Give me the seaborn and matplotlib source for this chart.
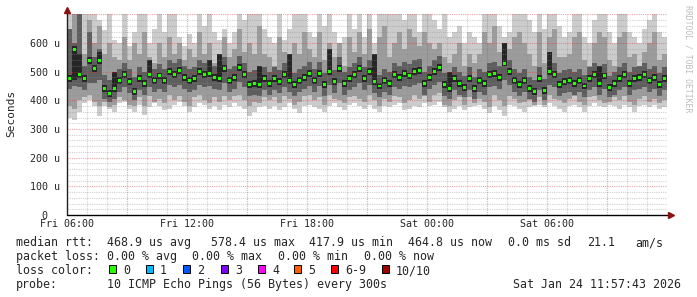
import numpy as np
import pandas as pd
import matplotlib
matplotlib.use("Agg")
import matplotlib.pyplot as plt
from matplotlib.patches import Rectangle
import seaborn as sns

# ---------------- data (values in microseconds, one column per 15 minutes) -------------
median_rtt = [
    475, 578, 490, 475, 540, 510, 540, 440, 425, 440,
    470, 490, 465, 430, 475, 460, 490, 470, 485, 470,
    500, 490, 505, 480, 470, 475, 500, 490, 495, 480,
    475, 510, 470, 480, 515, 490, 455, 460, 455, 475,
    460, 475, 465, 490, 470, 455, 470, 480, 495, 470,
    495, 455, 500, 465, 510, 460, 475, 490, 510, 475,
    500, 465, 450, 470, 460, 490, 480, 495, 485, 500,
    505, 460, 480, 500, 515, 455, 440, 475, 460, 445,
    475, 440, 470, 460, 490, 495, 480, 530, 500, 470,
    455, 470, 440, 430, 475, 435, 500, 490, 455, 465,
    470, 460, 470, 450, 475, 490, 460, 485, 445, 460,
    475, 490, 460, 475, 480, 490, 470, 480, 455, 475,
]
ping_max = [
    720, 720, 720, 720, 720, 720, 680, 645, 720, 610,
    600, 720, 590, 640, 720, 720, 600, 650, 720, 640,
    720, 700, 620, 590, 630, 600, 720, 660, 720, 640,
    610, 650, 600, 640, 720, 680, 720, 720, 720, 650,
    620, 600, 720, 610, 650, 720, 700, 720, 640, 620,
    720, 660, 700, 640, 600, 620, 720, 650, 700, 620,
    720, 600, 720, 720, 700, 720, 720, 680, 720, 720,
    640, 720, 720, 680, 650, 700, 620, 640, 660, 600,
    640, 620, 600, 720, 720, 720, 660, 620, 640, 720,
    720, 720, 680, 640, 720, 650, 720, 720, 660, 620,
    640, 720, 720, 620, 600, 680, 720, 720, 640, 600,
    720, 720, 640, 620, 600, 650, 680, 720, 640, 620,
]
ping_min = [
    340, 330, 360, 390, 400, 380, 345, 380, 370, 360,
    390, 395, 370, 360, 385, 350, 375, 390, 380, 365,
    370, 385, 395, 380, 360, 375, 390, 385, 370, 380,
    365, 385, 375, 390, 380, 370, 345, 360, 375, 380,
    370, 380, 365, 375, 390, 370, 355, 380, 385, 375,
    370, 360, 380, 390, 375, 365, 385, 390, 380, 370,
    385, 370, 360, 380, 375, 385, 390, 365, 370, 380,
    375, 390, 380, 385, 395, 375, 360, 370, 380, 365,
    375, 380, 385, 370, 355, 380, 365, 345, 385, 380,
    370, 360, 375, 380, 385, 375, 390, 380, 370, 360,
    380, 385, 375, 360, 380, 390, 380, 375, 385, 380,
    370, 385, 375, 360, 380, 385, 375, 385, 370, 375,
]
mid_hi = [
    640, 700, 650, 560, 680, 600, 660, 560, 600, 550,
    540, 620, 540, 600, 560, 640, 550, 530, 600, 550,
    620, 560, 600, 540, 580, 550, 640, 560, 600, 530,
    560, 620, 550, 580, 650, 570, 600, 560, 660, 560,
    550, 520, 620, 570, 550, 600, 560, 640, 580, 550,
    640, 540, 600, 550, 600, 520, 620, 570, 640, 560,
    650, 550, 620, 660, 550, 600, 640, 580, 650, 620,
    590, 640, 600, 580, 600, 550, 530, 560, 600, 520,
    560, 530, 560, 640, 600, 660, 570, 600, 580, 620,
    640, 600, 560, 520, 640, 530, 620, 650, 550, 550,
    560, 620, 640, 540, 520, 600, 640, 620, 540, 520,
    620, 640, 550, 560, 520, 570, 600, 640, 540, 560,
]
mid_lo = [
    380, 370, 400, 410, 420, 395, 380, 395, 375, 385,
    410, 400, 385, 380, 410, 380, 415, 395, 405, 390,
    420, 400, 415, 395, 380, 410, 420, 400, 390, 410,
    395, 415, 400, 415, 420, 400, 380, 395, 390, 410,
    400, 410, 390, 415, 405, 385, 395, 415, 420, 400,
    410, 385, 420, 405, 400, 390, 410, 415, 405, 395,
    420, 400, 380, 405, 395, 415, 410, 390, 400, 420,
    405, 415, 395, 420, 425, 385, 380, 400, 410, 385,
    410, 390, 405, 395, 375, 420, 400, 380, 415, 405,
    390, 395, 400, 385, 410, 385, 420, 405, 400, 390,
    405, 415, 395, 385, 410, 415, 400, 390, 395, 410,
    400, 415, 395, 385, 405, 415, 395, 405, 390, 400,
]
dark_hi = [
    650, 600, 700, 520, 640, 550, 580, 490, 470, 490,
    510, 530, 510, 480, 515, 500, 530, 510, 525, 510,
    540, 530, 545, 520, 510, 515, 540, 530, 535, 520,
    515, 550, 510, 520, 555, 530, 500, 505, 500, 515,
    500, 515, 505, 530, 510, 495, 510, 520, 535, 510,
    535, 495, 540, 505, 550, 500, 515, 530, 550, 515,
    540, 505, 490, 510, 500, 530, 520, 535, 525, 540,
    545, 500, 520, 540, 555, 495, 480, 515, 500, 485,
    515, 480, 510, 500, 530, 535, 520, 570, 540, 510,
    495, 510, 480, 470, 515, 475, 540, 530, 495, 505,
    510, 500, 510, 490, 515, 530, 500, 525, 485, 500,
    515, 530, 500, 515, 520, 530, 510, 520, 495, 515,
]
dark_lo = [
    440, 450, 445, 435, 460, 460, 470, 405, 395, 405,
    430, 445, 425, 400, 435, 420, 445, 430, 440, 430,
    455, 445, 455, 440, 430, 435, 455, 445, 450, 440,
    435, 460, 430, 440, 465, 445, 415, 420, 415, 435,
    420, 435, 425, 445, 430, 415, 430, 440, 450, 430,
    450, 415, 455, 425, 460, 420, 435, 445, 460, 435,
    455, 425, 410, 430, 420, 445, 440, 450, 445, 455,
    460, 420, 440, 455, 465, 415, 405, 435, 420, 410,
    435, 405, 430, 420, 445, 450, 440, 470, 455, 430,
    415, 430, 405, 395, 435, 400, 455, 445, 415, 425,
    430, 420, 430, 410, 435, 445, 420, 440, 410, 420,
    435, 445, 420, 435, 440, 445, 430, 440, 415, 435,
]
core_hi = [
    487, 590, 560, 487, 552, 522, 570, 452, 437, 500,
    482, 502, 477, 442, 487, 472, 540, 482, 497, 482,
    512, 502, 517, 492, 482, 487, 512, 502, 540, 492,
    560, 522, 482, 492, 527, 502, 467, 472, 520, 487,
    472, 487, 477, 502, 560, 467, 482, 492, 507, 482,
    507, 467, 580, 477, 522, 472, 487, 502, 522, 487,
    512, 560, 462, 482, 472, 502, 492, 507, 497, 512,
    517, 472, 492, 512, 527, 467, 500, 487, 472, 457,
    487, 452, 482, 472, 502, 507, 492, 600, 512, 482,
    467, 482, 452, 442, 487, 447, 570, 502, 467, 477,
    482, 472, 482, 462, 487, 502, 520, 497, 457, 472,
    487, 502, 472, 487, 492, 502, 482, 492, 467, 487,
]
core_lo = [
    463, 470, 478, 463, 528, 498, 528, 428, 413, 428,
    458, 478, 453, 418, 463, 448, 478, 458, 473, 458,
    488, 478, 493, 468, 458, 463, 488, 478, 483, 468,
    463, 498, 458, 468, 503, 478, 443, 448, 443, 463,
    448, 463, 453, 478, 458, 443, 458, 468, 483, 458,
    483, 443, 488, 453, 498, 448, 463, 478, 498, 463,
    488, 453, 438, 458, 448, 478, 468, 483, 473, 488,
    493, 448, 468, 488, 503, 443, 428, 463, 448, 433,
    463, 428, 458, 448, 478, 483, 468, 518, 488, 458,
    443, 458, 428, 418, 463, 423, 488, 478, 443, 453,
    458, 448, 458, 438, 463, 478, 448, 473, 433, 448,
    463, 478, 448, 463, 468, 478, 458, 468, 443, 463,
]

x_tick_hours = [0, 6, 12, 18, 24]
x_tick_labels = ["Fri 06:00", "Fri 12:00", "Fri 18:00", "Sat 00:00", "Sat 06:00"]
y_tick_values = [0, 100, 200, 300, 400, 500, 600]
y_tick_labels = ["  0", "100 u", "200 u", "300 u", "400 u", "500 u", "600 u"]

loss_labels = ["0", "1", "2", "3", "4", "5", "6-9", "10/10"]
loss_colors = ["#26ff00", "#00b8ff", "#0059ff", "#7e00ff", "#ff00ff", "#ff5e00", "#ff0000", "#a10000"]

step_hours = 0.25

# ---------------- figure ----------------
sns.set_style("white")
plt.rcParams["font.family"] = ["DejaVu Sans Mono", "DejaVu Sans"]

W, H = 697, 297
fig = plt.figure(figsize=(W / 100, H / 100), dpi=100)
fig.patch.set_facecolor("white")
ax = fig.add_axes([67 / W, 82 / H, 600 / W, (215 - 14.3) / H])
ax.set_facecolor("white")

n = len(median_rtt)
t = np.arange(n) * step_hours

bands = [
    (ping_min, ping_max, "#cccccc"),
    (mid_lo, mid_hi, "#9c9c9c"),
    (dark_lo, dark_hi, "#5e5e5e"),
    (core_lo, core_hi, "#262626"),
]
for lo, hi, col in bands:
    lo = np.asarray(lo, float)
    hi = np.asarray(hi, float)
    ax.bar(t, hi - lo, bottom=lo, width=step_hours, align="edge",
           color=col, linewidth=0, zorder=1)

df = pd.DataFrame({"t": t + step_hours / 2, "median": median_rtt})
dot_marker = [(-1, -0.8), (1, -0.8), (1, 0.8), (-1, 0.8), (-1, -0.8)]
sns.scatterplot(data=df, x="t", y="median", marker=dot_marker, s=7,
                color="#26ff00", edgecolor="none", linewidth=0, zorder=5,
                ax=ax, legend=False)

ax.set_xlim(0, 30)
ax.set_ylim(0, 700)

# grid: translucent dotted lines drawn over the smoke, like rrdtool
minor_c, major_c = "#8c8c8c", "#d03c3c"
for h in range(1, 31):
    if h % 3 == 0:
        ax.axvline(h, color=major_c, alpha=0.45, lw=0.8, ls=(0, (1, 1)), zorder=3)
    else:
        ax.axvline(h, color=minor_c, alpha=0.4, lw=0.8, ls=(0, (1, 1)), zorder=3)
for v in range(20, 701, 20):
    if v % 100 == 0:
        ax.axhline(v, color=major_c, alpha=0.45, lw=0.8, ls=(0, (1, 1)), zorder=3)
    else:
        ax.axhline(v, color=minor_c, alpha=0.4, lw=0.8, ls=(0, (1, 1)), zorder=3)

for s in ax.spines.values():
    s.set_visible(False)

# axes with arrows
ax.plot([0, 0], [0, 712], color="#202020", lw=1.0, clip_on=False, zorder=6)
ax.plot([0], [716], marker="^", color="#8b1010", ms=4.5, clip_on=False, zorder=7)
ax.plot([0, 30.1], [0, 0], color="#000000", lw=1.0, clip_on=False, zorder=6)
ax.plot([30.2], [0], marker=">", color="#8b1010", ms=4.5, clip_on=False, zorder=7)

ax.set_xticks(x_tick_hours)
ax.set_xticklabels(x_tick_labels, fontsize=7.2)
ax.set_yticks(y_tick_values)
ax.set_yticklabels(y_tick_labels, fontsize=7.2)
ax.tick_params(axis="x", length=0, pad=3)
ax.tick_params(axis="y", length=0, pad=26.6)
for lab in ax.get_yticklabels():
    lab.set_horizontalalignment("left")
ax.set_xlabel("")
ax.set_ylabel("")

# y-axis title and rrdtool credit
fig.text(11 / W, 1 - 113.5 / H, "Seconds", rotation=90, fontsize=8,
         ha="center", va="center")
fig.text(688 / W, 1 - 59 / H, "RRDTOOL / TOBI OETIKER", rotation=270,
         fontsize=5.9, color="#bdbdbd", ha="center", va="center")

# legend text
def ftext(x, y, s, ha="left"):
    fig.text(x / W, 1 - y / H, s, fontsize=8.4, ha=ha, va="center_baseline")

y1, y2, y3, y4 = 241, 255, 269, 283
for s, x in [("median rtt:", 16), ("468.9 us avg", 107), ("578.4 us max", 211),
             ("417.9 us min", 309), ("464.8 us now", 408), ("0.0 ms sd", 508),
             ("21.1", 587), ("am/s", 635)]:
    ftext(x, y1, s)
for s, x in [("packet loss:", 16), ("0.00 % avg", 107), ("0.00 % max", 192),
             ("0.00 % min", 278), ("0.00 % now", 364)]:
    ftext(x, y2, s)
ftext(16, y3, "loss color:")
box_x = [109, 146, 183, 221, 258, 294, 331, 382]
for bx, lab, col in zip(box_x, loss_labels, loss_colors):
    fig.patches.append(Rectangle((bx / W, 1 - 273 / H), 7 / W, 8 / H,
                                 transform=fig.transFigure, facecolor=col,
                                 edgecolor="black", lw=0.7))
    ftext(bx + 14, y3, lab)
ftext(16, y4, "probe:")
ftext(107, y4, "10 ICMP Echo Pings (56 Bytes) every 300s")
ftext(681, y4, "Sat Jan 24 11:57:43 2026", ha="right")

fig.savefig("out.png", dpi=100, facecolor="white")
